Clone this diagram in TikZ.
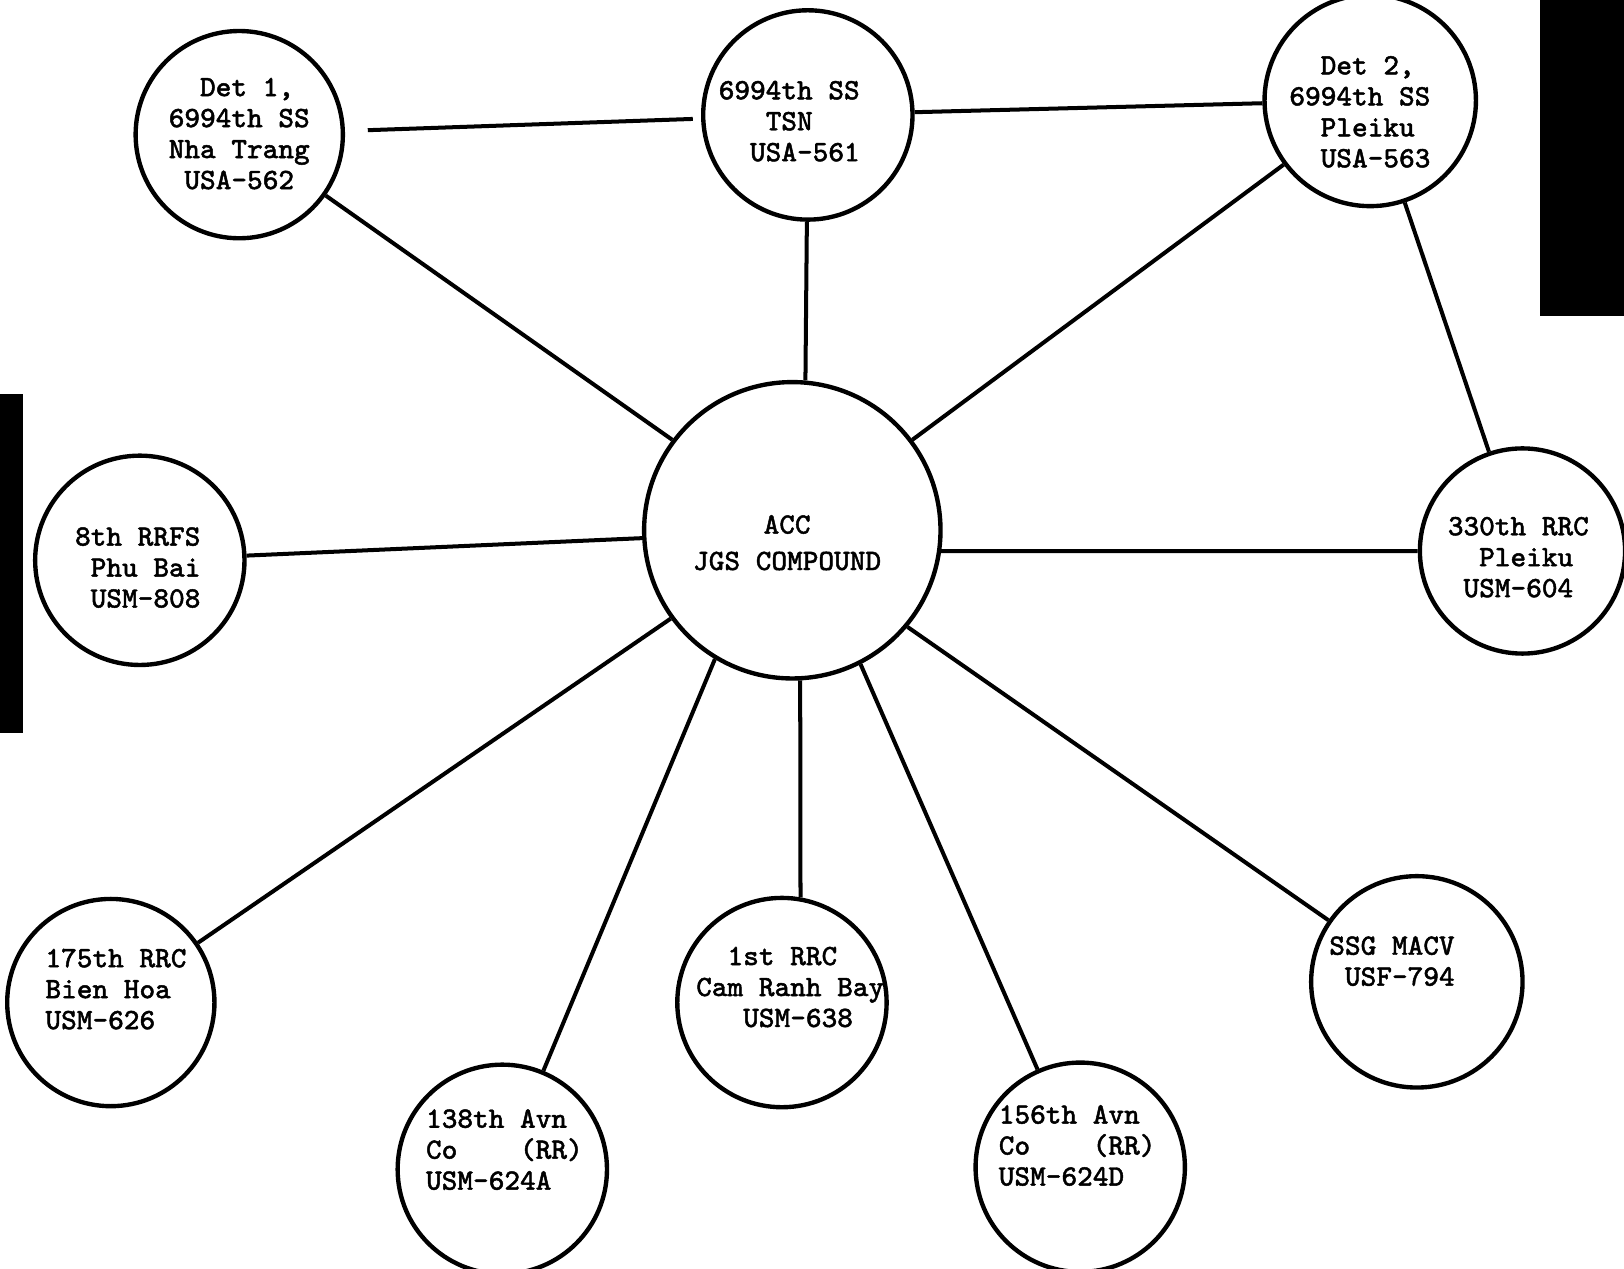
\documentclass[tikz,border=0pt]{standalone}
\usepackage{fontspec}
\usepackage{tikz}
\usetikzlibrary{calc}
\newfontfamily\typewr[FakeBold=1.6]{Latin Modern Mono}
\tikzstyle{stn}=[draw, circle, line width=1.2pt, inner sep=0pt]
\tikzstyle{lbl}=[font=\typewr\fontsize{8.1}{8.5}\selectfont, align=left, inner sep=0pt]
\tikzstyle{link}=[line width=1.1pt]
\newcommand{\tgap}[1]{\hspace*{#1\fontcharwd\font`0}}

\begin{document}
\begin{tikzpicture}[x=0.01cm,y=-0.01cm]
\useasboundingbox (0,0) rectangle (1568,1225);
% edges of the scan
\fill (1487,0) rectangle (1568,305);
\fill (0,380) rectangle (22,708);
% stations: name/x/y/diameter(mm)
\foreach \n/\x/\y/\d in {det1/231/130/20, tsn/780/111/20.2, det2/1323/97/20.4,
	rrfs8/135/541/20.2, acc/765/512/28.6, rrc330/1470/532/19.8,
	rrc175/107/968/20, avn138/485/1129/20.2, rrc1/755/968/20.2,
	avn156/1043/1127/20.2, ssg/1368/948/20.4} {
	\node[stn, minimum size=\d mm] (\n) at (\x,\y) {};
}
\node[lbl] (det1t) at (231,129) {\tgap2Det 1,\\6994th SS\\Nha Trang\\\tgap1USA-562};
\node[lbl] (tsnt) at (762,117) {6994th SS\\\tgap3TSN\\\tgap2USA-561};
\node[lbl] (det2t) at (1313,108) {\tgap2Det 2,\\6994th SS\\\tgap2Pleiku\\\tgap2USA-563};
\node[lbl] (rrfs8t) at (133,548) {8th RRFS\\\tgap1Phu Bai\\\tgap1USM-808};
\node[lbl, align=center] (acct) at (760,524) {ACC\\[1.5pt]JGS COMPOUND};
\node[lbl] (rrc330t) at (1466,538) {330th RRC\\\tgap2Pleiku\\\tgap1USM-604};
\node[lbl] (rrc175t) at (112,955) {175th RRC\\Bien Hoa\\USM-626};
\node[lbl] (avn138t) at (487,1110) {138th Avn\\Co~~~~(RR)\\USM-624A};
\node[lbl] (rrc1t) at (763,953) {\tgap1 1st RRC\\Cam Ranh Bay\\\tgap3USM-638};
\node[lbl] (avn156t) at (1040,1106) {156th Avn\\Co~~~~(RR)\\USM-624D};
\node[lbl] (ssgt) at (1344,928) {SSG MACV\\\tgap1USF-794};
% links
\draw[link, shorten <=2.2mm, shorten >=0.8mm] (det1) -- (tsn);
\draw[link] (tsn) -- (det2);
\draw[link] (det2) -- (rrc330);
\draw[link] (acc.143) -- (det1);
\draw[link] (acc.85) -- (tsn);
\draw[link] (acc.37) -- (det2);
\draw[link] (acc.183) -- (rrfs8);
\draw[link] (acc.-8) -- (rrc330);
\draw[link] (acc.216) -- (rrc175);
\draw[link] (acc.239) -- (avn138);
\draw[link] (acc.273) -- (rrc1.80);
\draw[link] (acc.297) -- (avn156);
\draw[link] (acc.320) -- (ssg);
\end{tikzpicture}
\end{document}
